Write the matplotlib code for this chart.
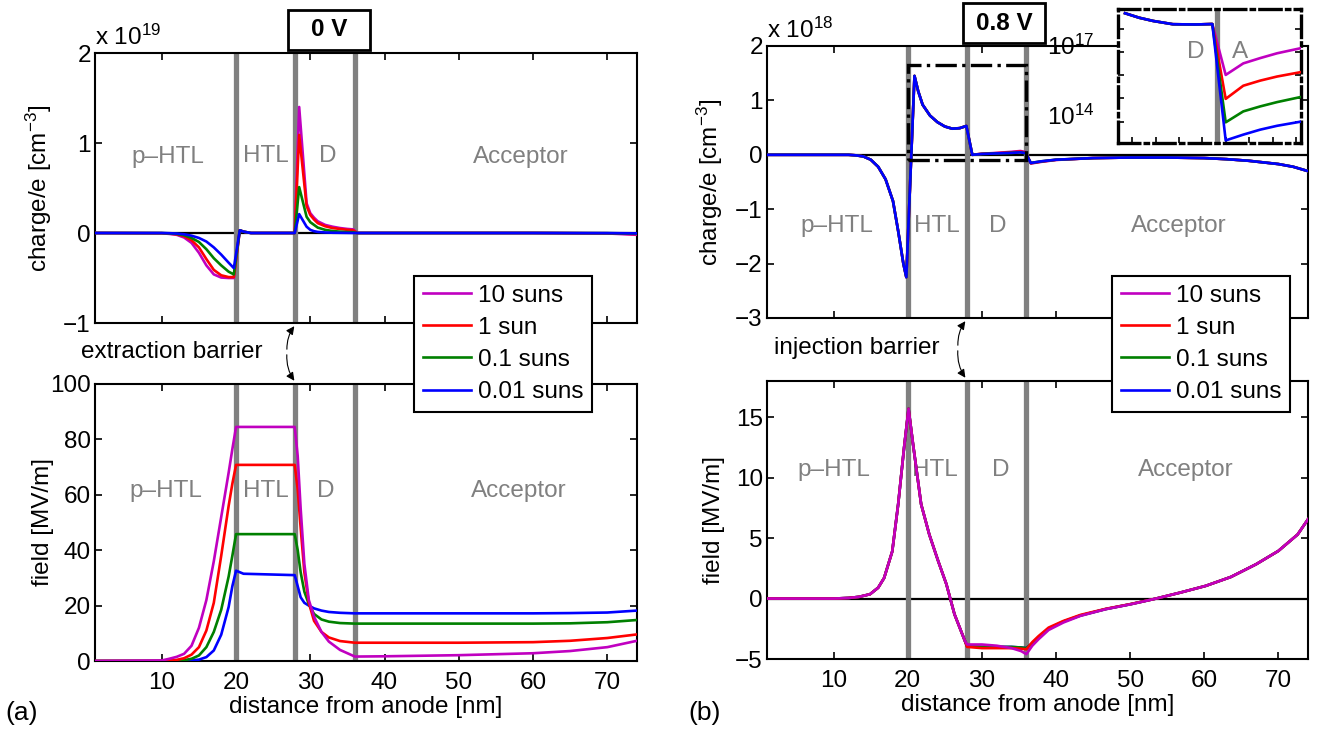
import numpy as np
import matplotlib.pyplot as plt
from matplotlib.patches import Rectangle, FancyArrowPatch
from matplotlib.transforms import ScaledTranslation
from matplotlib.ticker import FuncFormatter, FixedLocator, NullLocator, MultipleLocator

plt.rcParams['font.family'] = ['Liberation Sans', 'DejaVu Sans']
plt.rcParams['mathtext.fontset'] = 'custom'
plt.rcParams['mathtext.rm'] = 'Liberation Sans'
plt.rcParams['mathtext.it'] = 'Liberation Sans:italic'
plt.rcParams['mathtext.bf'] = 'Liberation Sans:bold'
plt.rcParams['axes.linewidth'] = 1.5
plt.rcParams['font.size'] = 17.5

# --------------------------------------------
# Data
# --------------------------------------------
labels = ['10 suns', '1 sun', '0.1 suns', '0.01 suns']
colors = ['#C000C0', '#FF0000', '#008000', '#0000FF']
interfaces = [20, 28, 36]  # p-HTL/HTL, HTL/D, D/Acceptor [nm]

# (a) 0 V : charge/e [1e19 cm^-3]
x_charge_a = [1, 10, 11, 12, 13, 14, 15, 16, 17, 18, 19, 19.7, 20.5, 21, 22, 27.9, 28.5,
              29.5, 30, 30.5, 31, 32, 33, 34, 35, 35.8, 36.3, 40, 60, 70, 74]
charge_a_10 = [0, -0.003, -0.01, -0.02, -0.05, -0.11, -0.22, -0.36, -0.46, -0.495, -0.5, -0.5,
               0.03, 0.015, 0, 0, 1.40, 0.33, 0.22, 0.17, 0.13, 0.09, 0.07, 0.055, 0.045,
               0.04, 0, 0, 0, -0.005, -0.02]
charge_a_1 = [0, -0.002, -0.006, -0.014, -0.035, -0.08, -0.16, -0.29, -0.41, -0.47, -0.49,
              -0.49, 0.03, 0.015, 0, 0, 1.09, 0.30, 0.2, 0.15, 0.11, 0.075, 0.055, 0.045,
              0.035, 0.03, 0, 0, 0, -0.003, -0.012]
charge_a_01 = [0, -0.001, -0.004, -0.01, -0.025, -0.055, -0.1, -0.18, -0.28, -0.36, -0.43,
               -0.46, 0.03, 0.015, 0, 0, 0.51, 0.18, 0.12, 0.09, 0.06, 0.035, 0.022, 0.015,
               0.01, 0.008, 0, 0, 0, -0.002, -0.006]
charge_a_001 = [0, 0, -0.002, -0.006, -0.014, -0.03, -0.055, -0.095, -0.16, -0.24, -0.33,
                -0.39, 0.03, 0.015, 0, 0, 0.21, 0.07, 0.035, 0.02, 0.012, 0.006, 0.003,
                0.002, 0.001, 0, 0, 0, 0, -0.001, -0.004]

# (a) 0 V : field [MV/m]
x_field_a = [1, 10, 11, 12, 13, 14, 15, 16, 17, 18, 19, 19.5, 20, 21, 27.9, 28.3, 28.7, 29.2,
             29.8, 30.5, 31.5, 32.5, 34, 36, 40, 50, 60, 65, 70, 74]
field_a_10 = [0, 0.2, 0.8, 1.5, 2.6, 5.5, 12, 22, 36, 52, 68, 76.5, 84.5, 84.5, 84.5, 74, 55,
              35, 22, 16, 10.5, 7, 4, 1.6, 1.7, 2.1, 2.8, 3.6, 5, 7.3]
field_a_1 = [0, 0, 0.2, 0.4, 1.0, 2.3, 5, 11, 21, 38, 56, 64, 70.8, 70.8, 70.8, 62, 48, 32,
             21, 14.5, 10.5, 8.5, 7.2, 6.6, 6.6, 6.6, 6.8, 7.3, 8.3, 9.6]
field_a_01 = [0, 0, 0, 0.1, 0.3, 0.8, 2, 5, 10.5, 18.5, 30.5, 38, 45.8, 45.8, 45.8, 40, 32,
              25, 20.5, 17, 15, 14.2, 13.7, 13.5, 13.5, 13.5, 13.5, 13.6, 14, 14.8]
field_a_001 = [0, 0, 0, 0, 0.1, 0.2, 0.5, 1.4, 3.8, 9.5, 19.5, 27, 32.6, 31.5, 31, 27, 23,
               21, 20, 19, 18.2, 17.7, 17.4, 17.2, 17.2, 17.2, 17.2, 17.3, 17.5, 18.2]

# (b) 0.8 V : charge/e [1e18 cm^-3]
x_charge_b = [1, 12, 13, 14, 15, 16, 17, 18, 18.7, 19.4, 19.8, 20.9, 21.4, 22, 23, 24, 25,
              26, 27, 27.9, 28.7, 30, 32, 34, 35.2, 35.9, 36.6, 38, 40, 45, 50, 55, 60, 63,
              66, 68, 70, 72, 74]
charge_b_10 = [0, 0, -0.01, -0.03, -0.09, -0.22, -0.45, -0.85, -1.4, -2.0, -2.25, 1.45, 1.17,
               0.92, 0.72, 0.6, 0.52, 0.48, 0.49, 0.53, 0.0, 0.02, 0.035, 0.055, 0.07, 0.05,
               -0.16, -0.13, -0.095, -0.06, -0.05, -0.05, -0.06, -0.08, -0.11, -0.14, -0.17,
               -0.22, -0.3]
charge_b_1 = [0, 0, -0.01, -0.03, -0.09, -0.22, -0.45, -0.85, -1.4, -2.0, -2.25, 1.45, 1.17,
              0.92, 0.72, 0.6, 0.52, 0.48, 0.49, 0.53, 0.0, 0.018, 0.03, 0.045, 0.06, 0.04,
              -0.155, -0.125, -0.092, -0.06, -0.05, -0.05, -0.06, -0.08, -0.11, -0.14, -0.17,
              -0.22, -0.3]
charge_b_01 = [0, 0, -0.01, -0.03, -0.09, -0.22, -0.45, -0.85, -1.4, -2.0, -2.25, 1.45, 1.17,
               0.92, 0.72, 0.6, 0.52, 0.48, 0.49, 0.53, 0.0, 0.015, 0.025, 0.035, 0.045, 0.03,
               -0.15, -0.12, -0.09, -0.06, -0.05, -0.05, -0.06, -0.08, -0.11, -0.14, -0.17,
               -0.22, -0.3]
charge_b_001 = [0, 0, -0.01, -0.03, -0.09, -0.22, -0.45, -0.85, -1.4, -2.0, -2.25, 1.45, 1.17,
                0.92, 0.72, 0.6, 0.52, 0.48, 0.49, 0.53, 0.0, 0.015, 0.025, 0.035, 0.045, 0.03,
                -0.15, -0.12, -0.09, -0.06, -0.05, -0.05, -0.06, -0.08, -0.11, -0.14, -0.17,
                -0.22, -0.3]

# (b) 0.8 V : field [MV/m]
x_field_b = [1, 10, 12, 13.4, 14.9, 16, 16.8, 17.9, 18.7, 19.5, 20.1, 20.7, 21.8, 22.9, 24.1,
             25.2, 26.3, 27.7, 28, 30, 32, 34, 35.3, 36, 36.8, 37.65, 39, 41, 43.3, 46.7,
             50.1, 53.5, 56.8, 60.2, 63.6, 67, 70, 72.6, 74]
field_b_10 = [0, 0, 0.05, 0.14, 0.36, 0.9, 1.7, 3.9, 7.8, 12.5, 15.7, 12.8, 7.8, 5.3, 3.1,
              1.2, -1.3, -3.5, -3.8, -3.8, -3.9, -4.1, -4.35, -4.6, -3.9, -3.36, -2.6, -1.98,
              -1.43, -0.88, -0.47, 0, 0.5, 1.05, 1.79, 2.84, 3.94, 5.3, 6.56]
field_b_1 = [0, 0, 0.05, 0.14, 0.36, 0.9, 1.7, 3.9, 7.8, 12.5, 15.7, 12.8, 7.8, 5.3, 3.1,
             1.2, -1.3, -3.5, -4.0, -4.1, -4.1, -4.1, -4.15, -4.2, -3.6, -3.1, -2.4, -1.85,
             -1.35, -0.85, -0.45, 0, 0.5, 1.05, 1.79, 2.84, 3.94, 5.3, 6.56]
field_b_01 = [0, 0, 0.05, 0.14, 0.36, 0.9, 1.7, 3.9, 7.8, 12.5, 15.7, 12.8, 7.8, 5.3, 3.1,
              1.2, -1.3, -3.5, -3.95, -4.0, -4.0, -4.0, -4.05, -4.1, -3.7, -3.2, -2.5, -1.9,
              -1.4, -0.87, -0.46, 0, 0.5, 1.05, 1.79, 2.84, 3.94, 5.3, 6.56]
field_b_001 = [0, 0, 0.05, 0.14, 0.36, 0.9, 1.7, 3.9, 7.8, 12.5, 15.7, 12.8, 7.8, 5.3, 3.1,
               1.2, -1.3, -3.5, -3.95, -4.0, -4.0, -4.0, -4.05, -4.1, -3.7, -3.2, -2.5, -1.9,
               -1.4, -0.87, -0.46, 0, 0.5, 1.05, 1.79, 2.84, 3.94, 5.3, 6.56]

# (b) inset : charge density near the D/A interface, log scale
x_inset = [29.5, 30.5, 31.5, 32.9, 34.5, 35.7, 36.65, 37.9, 39.1, 40.3, 42]
inset_10 = [4.6e18, 2.95e18, 2.14e18, 1.55e18, 1.51e18, 1.58e18, 1.02e16, 3.2e16, 5.4e16,
            8.7e16, 1.45e17]
inset_1 = [4.6e18, 2.95e18, 2.14e18, 1.55e18, 1.51e18, 1.58e18, 9.5e14, 3.5e15, 5.8e15,
           8.7e15, 1.35e16]
inset_01 = [4.6e18, 2.95e18, 2.14e18, 1.55e18, 1.51e18, 1.58e18, 9.3e13, 2.75e14, 4.5e14,
            6.9e14, 1.15e15]
inset_001 = [4.6e18, 2.95e18, 2.14e18, 1.55e18, 1.51e18, 1.58e18, 1.55e13, 2.75e13, 4.5e13,
             6.6e13, 1.0e14]

# zoom window drawn on the 0.8 V charge plot
zoom_x = (20, 36)
zoom_y = (-0.09, 1.65)

grey = '#808080'


def style_axes(ax, ylim, yticks, xlabels=True):
    ax.set_xlim(1, 74)
    ax.set_ylim(*ylim)
    ax.set_xticks([10, 20, 30, 40, 50, 60, 70])
    ax.set_yticks(yticks)
    ax.tick_params(direction='in', top=True, right=True, length=5, width=1.2)
    ax.tick_params(axis='x', pad=8)
    ax.tick_params(axis='y', pad=3)
    if not xlabels:
        ax.set_xticklabels([])
    else:
        ax.set_xlabel('distance from anode [nm]', labelpad=1)
    for xi in interfaces:
        ax.axvline(xi, color=grey, lw=3.8, zorder=2)


def region_labels(ax, y, xs):
    for name, xp in zip(['p\u2013HTL', 'HTL', 'D', 'Acceptor'], xs):
        ax.text(xp, y, name, color=grey, ha='center', va='center', zorder=1)


fig = plt.figure(figsize=(13.2, 7.31), dpi=100)
W, H = 1320, 731


def add_axes_px(left, top, right, bottom):
    return fig.add_axes([left / W, 1 - bottom / H, (right - left) / W, (bottom - top) / H])


ax_ca = add_axes_px(95, 53, 637, 323)
ax_fa = add_axes_px(95, 384, 637, 661)
ax_cb = add_axes_px(767, 46, 1308, 318)
ax_fb = add_axes_px(767, 381, 1308, 659)

charge_a = [charge_a_10, charge_a_1, charge_a_01, charge_a_001]
field_a = [field_a_10, field_a_1, field_a_01, field_a_001]
charge_b = [charge_b_10, charge_b_1, charge_b_01, charge_b_001]
field_b = [field_b_10, field_b_1, field_b_01, field_b_001]
inset = [inset_10, inset_1, inset_01, inset_001]

# --------------------------------------------
# (a) 0 V
# --------------------------------------------
ax_ca.axhline(0, color='black', lw=1.6, zorder=2)
handles = []
for y, c, lab in zip(charge_a, colors, labels):
    h, = ax_ca.plot(x_charge_a, y, color=c, lw=1.9, label=lab, zorder=3)
    handles.append(h)
style_axes(ax_ca, (-1, 2), [-1, 0, 1, 2], xlabels=False)
region_labels(ax_ca, 0.85, [10.8, 24.0, 32.3, 58.3])
ax_ca.set_ylabel('charge/e [cm$^{-3}$]')
ax_ca.yaxis.set_label_coords(-0.076, 0.5)
ax_ca.text(0.0, 1.01, 'x 10$^{19}$', transform=ax_ca.transAxes, ha='left', va='bottom')

for y, c in reversed(list(zip(field_a, colors))):
    ax_fa.plot(x_field_a, y, color=c, lw=1.9, zorder=3)
style_axes(ax_fa, (0, 100), [0, 20, 40, 60, 80, 100])
region_labels(ax_fa, 61.5, [10.5, 24.0, 32.1, 58.1])
ax_fa.set_ylabel('field [MV/m]')
ax_fa.yaxis.set_label_coords(-0.076, 0.5)

# --------------------------------------------
# (b) 0.8 V
# --------------------------------------------
ax_cb.axhline(0, color='black', lw=1.6, zorder=2)
for y, c in zip(charge_b, colors):
    ax_cb.plot(x_charge_b, y, color=c, lw=1.9, zorder=3)
style_axes(ax_cb, (-3, 2), [-3, -2, -1, 0, 1, 2], xlabels=False)
region_labels(ax_cb, -1.3, [10.4, 23.9, 32.2, 56.6])
ax_cb.set_ylabel('charge/e [cm$^{-3}$]')
ax_cb.yaxis.set_label_coords(-0.078, 0.5)
ax_cb.text(0.0, 1.01, 'x 10$^{18}$', transform=ax_cb.transAxes, ha='left', va='bottom')
ax_cb.add_patch(Rectangle((zoom_x[0], zoom_y[0]), zoom_x[1] - zoom_x[0], zoom_y[1] - zoom_y[0],
                          fill=False, ec='black', lw=2.4, ls='-.', zorder=4))

ax_fb.axhline(0, color='black', lw=1.6, zorder=2)
for y, c in reversed(list(zip(field_b, colors))):
    ax_fb.plot(x_field_b, y, color=c, lw=1.9, zorder=3)
style_axes(ax_fb, (-5, 18), [-5, 0, 5, 10, 15])
region_labels(ax_fb, 10.6, [10.0, 23.6, 32.5, 57.5])
ax_fb.set_ylabel('field [MV/m]')
ax_fb.yaxis.set_label_coords(-0.078, 0.5)

# inset: log-scale view of the D/A interface
ax_in = add_axes_px(1118, 9, 1301, 143)
for y, c in zip(inset, colors):
    ax_in.plot(x_inset, y, color=c, lw=1.9, zorder=3)
ax_in.axvline(36, color=grey, lw=3.8, zorder=2)
ax_in.set_yscale('log')
ax_in.set_xlim(29, 42)
ax_in.set_ylim(1.2e13, 7e18)
ax_in.yaxis.set_major_locator(FixedLocator([1e14, 1e15, 1e16, 1e17, 1e18]))
ax_in.yaxis.set_minor_locator(NullLocator())
ax_in.yaxis.set_major_formatter(FuncFormatter(
    lambda v, p: {1e14: '$10^{14}$', 1e17: '$10^{17}$'}.get(v, '')))
ax_in.xaxis.set_major_locator(MultipleLocator(5 / 3))
ax_in.set_xticklabels([])
ax_in.tick_params(direction='in', right=True, top=False, length=4, width=1.2)
ax_in.tick_params(axis='y', pad=17)
lift = ScaledTranslation(0, 7 / 100, fig.dpi_scale_trans)
for lbl in ax_in.get_yticklabels():
    lbl.set_transform(lbl.get_transform() + lift)
for sp in ax_in.spines.values():
    sp.set_linestyle('-.')
    sp.set_linewidth(2.4)
ax_in.text(34.5, 1e17, 'D', color=grey, ha='center', va='center')
ax_in.text(37.7, 1e17, 'A', color=grey, ha='center', va='center')

# --------------------------------------------
# Legends, voltage boxes, barrier arrows, panel tags
# --------------------------------------------
for lx in (414, 1112):
    leg = fig.legend(handles, labels, loc='upper left', bbox_to_anchor=(lx / W, 1 - 276 / H),
                     bbox_transform=fig.transFigure, frameon=True, fancybox=False,
                     framealpha=1, edgecolor='black', handlelength=2.0, handletextpad=0.3,
                     labelspacing=0.42, borderpad=0.35, borderaxespad=0)
    leg.get_frame().set_linewidth(1.5)
    leg.set_zorder(10)

for (bx0, by0, bx1, by1), txt in [((288, 10, 370, 50), '0 V'), ((963, 3, 1045, 43), '0.8 V')]:
    fig.patches.append(Rectangle((bx0 / W, 1 - by1 / H), (bx1 - bx0) / W, (by1 - by0) / H,
                                 transform=fig.transFigure, fc='white', ec='black', lw=2))
    fig.text((bx0 + bx1) / 2 / W, 1 - (by0 + by1) / 2 / H, txt, ha='center', va='center',
             fontweight='bold')

for (tx, ty, ox, ax_x, y_top, y_bot), txt in [((81, 352, 287, 296, 324, 383), 'extraction barrier'),
                                              ((774, 348, 958, 967, 319, 380), 'injection barrier')]:
    fig.text(tx / W, 1 - ty / H, txt, ha='left', va='center')
    for yt, rad in ((y_top, -0.2), (y_bot, 0.2)):
        fig.add_artist(FancyArrowPatch(
            (ox / W, 1 - ty / H), (ax_x / W, 1 - yt / H), transform=fig.transFigure,
            arrowstyle='-|>', mutation_scale=12, lw=0.8, color='black',
            connectionstyle=f'arc3,rad={rad}'))

fig.text(5 / W, 1 - 713 / H, '(a)', ha='left', va='center', fontsize=19)
fig.text(688 / W, 1 - 713 / H, '(b)', ha='left', va='center', fontsize=19)

fig.savefig('out.png', dpi=100)
